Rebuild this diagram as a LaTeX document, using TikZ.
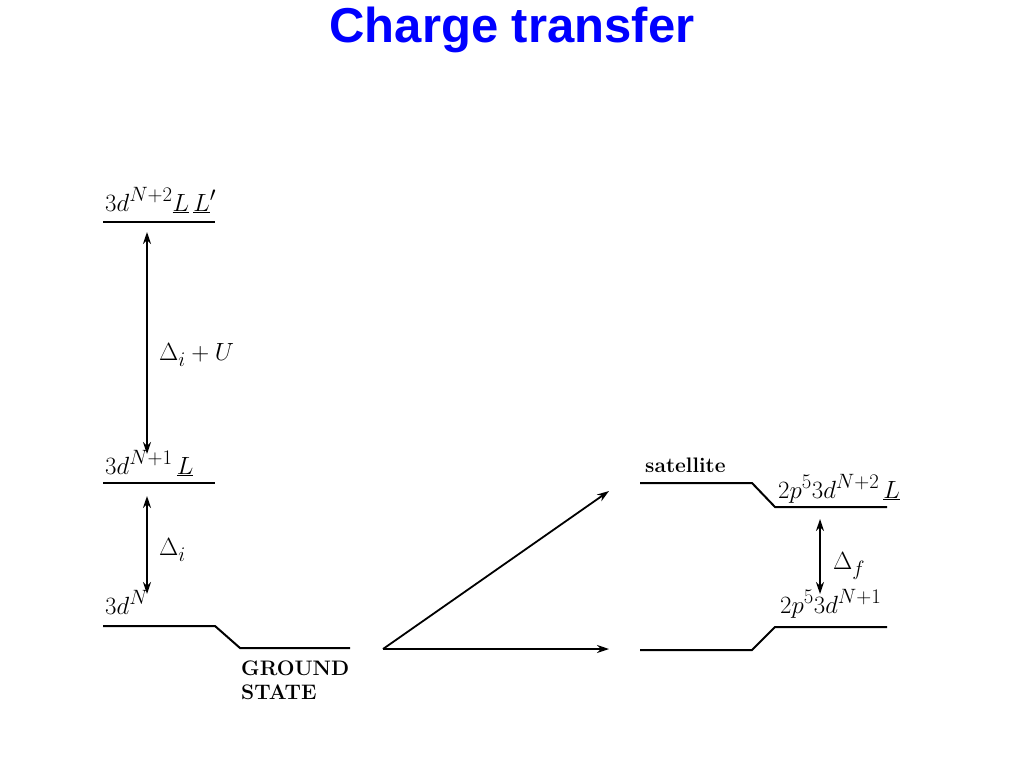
\documentclass[tikz,border=0pt]{standalone}
\usepackage{fontspec}
\newfontfamily\titlefont{Liberation Sans}
\usetikzlibrary{arrows.meta}
\begin{document}
\begin{tikzpicture}[x=1pt,y=-1pt,
  lvl/.style={line width=2pt},
  arr/.style={line width=1.8pt,-{Stealth[length=12pt,width=8pt]}},
  darr/.style={line width=1.8pt,{Stealth[length=12pt,width=8pt]}-{Stealth[length=12pt,width=8pt]}},
  lab/.style={inner sep=0pt,font=\fontsize{28}{32}\selectfont},
  blab/.style={inner sep=0pt,font=\fontsize{21}{24}\selectfont\bfseries},
]
\useasboundingbox (0,0) rectangle (1024,768);
\node[anchor=base,inner sep=0pt,text=blue,font=\titlefont\fontsize{49}{56}\selectfont\bfseries] (title) at (512,43) {Charge transfer};

% left levels
\coordinate (t1) at (103,222); \coordinate (t2) at (215,222);
\draw[lvl] (t1) -- (t2);
\node[lab,anchor=base west] (ltop) at (105,211) {$3d^{N+2}\underline{L}\,\underline{L}'$};
\coordinate (m1) at (103,483); \coordinate (m2) at (215,483);
\draw[lvl] (m1) -- (m2);
\node[lab,anchor=base west] (lmid) at (105,474) {$3d^{N+1}\,\underline{L}$};
\coordinate (g1) at (103,626); \coordinate (g2) at (215,626);
\coordinate (g3) at (240,648); \coordinate (g4) at (350,648);
\draw[lvl] (g1) -- (g2) -- (g3) -- (g4);
\node[lab,anchor=base west] (lgnd) at (105,614) {$3d^{N}$};
\node[blab,anchor=base west] (gs1) at (241,675) {GROUND};
\node[blab,anchor=base west] (gs2) at (241,699) {STATE};

\coordinate (a1t) at (147,232); \coordinate (a1b) at (147,454);
\draw[darr] (a1b) -- (a1t);
\node[lab,anchor=west] (dU) at (159,355) {$\Delta_i+U$};
\coordinate (a2t) at (147,496); \coordinate (a2b) at (147,594);
\draw[darr] (a2b) -- (a2t);
\node[lab,anchor=west] (di) at (159,550) {$\Delta_i$};

% middle arrows
\coordinate (o) at (383,649);
\coordinate (up) at (609,491);
\coordinate (rt) at (609,649);
\draw[arr] (o) -- (up);
\draw[arr] (o) -- (rt);

% right levels
\coordinate (s1) at (640,483); \coordinate (s2) at (752,483);
\coordinate (s3) at (775,507); \coordinate (s4) at (887,507);
\draw[lvl] (s1) -- (s2) -- (s3) -- (s4);
\node[blab,anchor=base west] (sat) at (645,472) {satellite};
\node[lab,anchor=base west] (rup) at (778,498) {$2p^5 3d^{N+2}\,\underline{L}$};
\coordinate (f1) at (640,650); \coordinate (f2) at (752,650);
\coordinate (f3) at (775,627); \coordinate (f4) at (887,627);
\draw[lvl] (f1) -- (f2) -- (f3) -- (f4);
\node[lab,anchor=base west] (rdn) at (780,613) {$2p^5 3d^{N+1}$};
\coordinate (a3t) at (820,519); \coordinate (a3b) at (820,594);
\draw[darr] (a3b) -- (a3t);
\node[lab,anchor=west] (df) at (833,566) {$\Delta_f$};
\end{tikzpicture}
\end{document}
